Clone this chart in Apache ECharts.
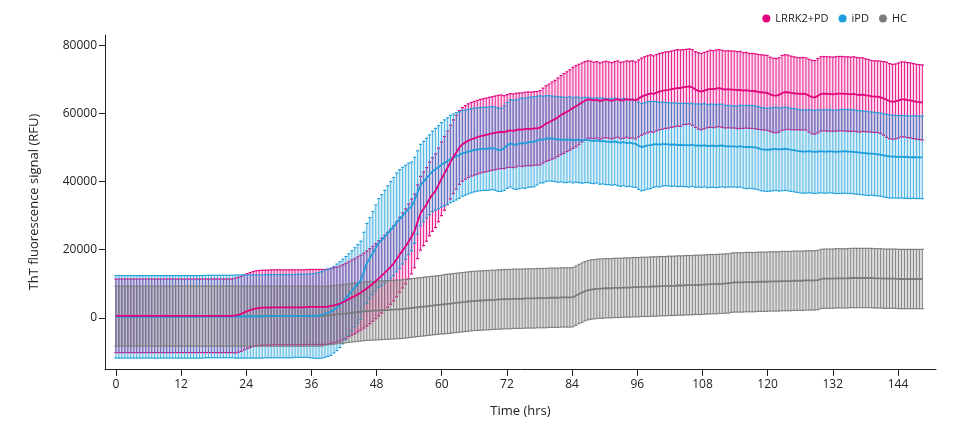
<!DOCTYPE html>
<html>
<head>
<meta charset="utf-8">
<script src="https://cdn.jsdelivr.net/npm/echarts@6/dist/echarts.min.js"></script>
<style>
  html, body { margin: 0; padding: 0; background: #fff; }
  #chart { width: 956px; height: 426px; }
</style>
</head>
<body>
<div id="chart"></div>
<script>
// readings every 0.55 h, values in thousands of RFU (mean and SD per reading)
const stepHrs = 0.55;
const xTicks = [0, 12, 24, 36, 48, 60, 72, 84, 96, 108, 120, 132, 144];
const yTicks = [0, 20000, 40000, 60000, 80000];
const names = ['LRRK2+PD', 'iPD', 'HC'];

const lrrkMean = [
  0.6,0.6,0.6,0.6,0.6,0.6,0.6,0.6,0.6,0.6,
  0.6,0.6,0.6,0.6,0.6,0.6,0.6,0.6,0.6,0.6,
  0.6,0.6,0.6,0.6,0.6,0.6,0.6,0.6,0.6,0.6,
  0.6,0.6,0.6,0.6,0.6,0.6,0.6,0.6,0.6,0.6,
  0.7,0.9,1.2,1.6,2.0,2.3,2.6,2.8,2.9,3.0,
  3.0,3.0,3.1,3.1,3.1,3.1,3.1,3.1,3.1,3.1,
  3.1,3.1,3.1,3.1,3.2,3.2,3.2,3.2,3.2,3.2,
  3.2,3.3,3.5,3.7,3.9,4.2,4.6,5.0,5.5,6.0,
  6.4,6.9,7.4,8.0,8.6,9.3,10.0,10.8,11.6,12.4,
  13.2,14.1,15.0,16.0,17.2,18.5,19.8,21.0,22.4,23.9,
  25.5,28.2,30.7,32.0,33.3,34.9,36.2,37.3,39.0,40.8,
  42.4,44.0,45.7,47.3,48.6,50.0,50.9,51.5,52.0,52.4,
  52.7,53.0,53.3,53.5,53.7,53.9,54.1,54.3,54.5,54.6,
  54.5,54.8,55.0,54.9,55.1,55.3,55.2,55.4,55.5,55.4,
  55.6,55.6,55.8,56.4,57.0,57.4,57.9,58.3,58.9,59.5,
  60.0,60.5,61.0,61.6,62.1,62.6,63.2,63.7,64.1,64.0,
  63.8,64.0,63.6,63.9,64.1,63.9,63.7,64.0,64.2,63.8,
  63.9,64.2,64.0,64.1,63.8,64.4,64.9,65.3,65.6,65.9,
  65.7,66.1,66.4,66.6,66.8,66.9,67.1,67.3,67.5,67.4,
  67.7,67.8,67.9,67.6,67.0,66.6,66.4,66.7,67.0,67.2,
  67.1,67.3,67.4,67.2,67.0,67.1,67.0,67.0,66.8,66.9,
  66.7,66.8,66.6,66.6,66.5,66.3,66.2,66.1,66.0,65.6,
  65.3,65.2,65.4,66.0,66.2,66.2,66.0,65.9,65.8,65.7,
  65.8,65.7,65.2,64.8,64.7,65.2,65.7,65.8,65.7,65.7,
  65.6,65.7,65.8,65.8,65.7,65.7,65.6,65.7,65.5,65.4,
  65.5,65.3,65.2,65.0,64.9,64.9,64.7,64.4,64.0,63.6,
  63.4,63.5,63.8,64.1,64.1,63.9,63.8,63.6,63.4,63.3,
  63.2
];
const lrrkSd = [
  10.8,10.8,10.8,10.8,10.8,10.8,10.8,10.8,10.8,10.8,
  10.8,10.8,10.8,10.8,10.8,10.8,10.8,10.8,10.8,10.8,
  10.8,10.8,10.8,10.8,10.8,10.8,10.8,10.8,10.8,10.8,
  10.8,10.8,10.8,10.8,10.8,10.8,10.8,10.8,10.8,10.8,
  11.0,11.0,11.0,11.0,11.0,11.0,11.0,11.0,11.0,11.0,
  11.0,11.0,11.0,11.0,11.0,11.0,11.0,11.0,11.0,11.0,
  11.0,11.0,11.0,11.0,11.0,11.0,11.0,11.0,11.0,11.0,
  11.0,11.0,11.0,11.0,11.0,11.0,11.0,11.0,11.0,11.0,
  11.0,11.0,11.0,11.0,11.0,11.0,11.0,11.0,11.0,11.0,
  11.0,11.0,11.0,11.0,11.0,11.0,11.0,11.0,11.0,11.0,
  10.8,10.8,10.8,10.8,10.8,10.8,10.8,10.8,10.8,10.8,
  10.8,10.8,10.8,10.8,10.8,10.8,10.8,10.8,10.8,10.8,
  10.8,10.8,10.8,10.8,10.8,10.8,10.8,10.8,10.8,10.8,
  10.7,10.7,10.8,10.8,10.8,10.7,10.8,10.8,10.8,10.8,
  10.8,10.8,10.9,11.0,11.1,11.2,11.3,11.4,11.5,11.6,
  11.7,11.7,11.8,11.9,11.9,11.8,11.6,11.5,11.3,11.3,
  11.2,11.2,11.2,11.2,11.2,11.2,11.2,11.2,11.2,11.2,
  11.2,11.2,11.3,11.3,11.3,11.3,11.3,11.3,11.3,11.3,
  11.2,11.2,11.2,11.2,11.2,11.2,11.2,11.2,11.2,11.2,
  11.0,11.0,11.0,11.1,11.1,11.2,11.2,11.2,11.2,11.3,
  11.3,11.3,11.3,11.3,11.3,11.3,11.3,11.3,11.3,11.3,
  11.1,11.1,11.0,11.0,11.0,11.0,11.0,11.0,11.0,10.9,
  10.9,10.9,10.9,11.0,11.0,10.9,10.8,10.7,10.6,10.6,
  10.6,10.6,10.7,10.8,10.8,10.9,10.9,10.9,10.9,10.9,
  10.9,10.9,10.9,10.9,10.9,10.9,10.9,10.9,10.9,10.9,
  10.8,10.7,10.6,10.5,10.5,10.5,10.6,10.8,11.0,11.0,
  11.0,11.0,11.0,11.0,11.0,11.0,11.0,11.0,11.0,11.0,
  11.0
];

const ipdMean = [
  0.3,0.3,0.3,0.3,0.3,0.3,0.3,0.3,0.3,0.3,
  0.3,0.3,0.3,0.3,0.3,0.3,0.3,0.3,0.3,0.3,
  0.3,0.3,0.3,0.3,0.3,0.3,0.3,0.3,0.3,0.3,
  0.4,0.4,0.4,0.4,0.4,0.4,0.4,0.4,0.4,0.4,
  0.4,0.4,0.4,0.4,0.4,0.4,0.4,0.4,0.4,0.4,
  0.5,0.5,0.5,0.5,0.5,0.5,0.5,0.5,0.5,0.5,
  0.6,0.6,0.6,0.6,0.6,0.6,0.6,0.6,0.7,0.9,
  1.2,1.5,1.8,2.4,3.1,3.9,4.8,5.8,6.8,7.9,
  9.0,10.0,11.0,13.5,16.0,17.5,19.0,20.5,22.0,22.8,
  23.8,24.8,25.8,26.8,28.0,29.0,30.0,31.0,32.0,32.7,
  34.5,36.8,39.0,40.0,41.0,42.0,43.0,43.6,44.2,44.9,
  45.5,46.0,46.6,47.0,47.4,47.8,48.3,48.5,48.8,49.0,
  49.3,49.4,49.5,49.6,49.6,49.7,49.8,49.6,49.3,49.3,
  49.8,50.6,51.2,50.9,50.8,51.1,51.3,51.2,51.5,51.6,
  51.7,52.0,52.4,52.3,52.6,52.7,52.6,52.5,52.3,52.4,
  52.2,52.2,52.4,52.1,52.3,52.2,52.0,52.2,52.2,52.0,
  51.9,52.1,51.8,51.9,51.7,51.7,51.6,51.8,51.5,51.4,
  51.6,51.3,51.4,51.2,51.1,50.5,50.1,50.3,50.6,50.7,
  50.9,51.0,50.8,51.0,51.0,50.9,50.8,50.9,50.7,50.8,
  50.7,50.7,50.6,50.8,50.5,50.6,50.5,50.7,50.4,50.5,
  50.5,50.4,50.5,50.6,50.3,50.4,50.3,50.3,50.2,50.4,
  50.2,50.1,50.2,50.1,50.0,49.8,49.5,49.4,49.3,49.4,
  49.5,49.6,49.4,49.5,49.6,49.5,49.3,49.2,49.0,48.9,
  48.8,48.8,48.9,48.8,48.7,48.8,48.9,48.8,48.8,48.9,
  48.8,48.7,48.8,48.8,48.9,48.8,48.8,48.7,48.6,48.5,
  48.4,48.3,48.2,48.2,48.1,48.0,47.9,47.7,47.5,47.4,
  47.3,47.3,47.2,47.3,47.2,47.2,47.1,47.2,47.1,47.1,
  47.1
];
const ipdSd = [
  12.1,12.1,12.1,12.1,12.1,12.1,12.1,12.1,12.1,12.1,
  12.1,12.1,12.1,12.1,12.1,12.1,12.1,12.1,12.1,12.1,
  12.1,12.1,12.1,12.1,12.1,12.1,12.1,12.1,12.1,12.1,
  12.1,12.1,12.1,12.1,12.1,12.1,12.1,12.1,12.1,12.1,
  12.2,12.2,12.2,12.2,12.2,12.2,12.2,12.2,12.2,12.2,
  12.2,12.2,12.2,12.2,12.2,12.2,12.2,12.2,12.2,12.2,
  12.2,12.2,12.2,12.2,12.2,12.3,12.4,12.5,12.6,12.7,
  12.8,12.8,12.8,12.7,12.7,12.6,12.4,12.2,12.0,11.8,
  11.6,11.5,11.5,11.6,11.7,11.9,12.2,12.6,13.0,13.3,
  13.6,13.9,14.2,14.4,14.5,14.5,14.2,13.8,13.4,13.0,
  12.6,12.2,11.9,11.8,11.7,11.7,11.8,12.0,12.2,12.4,
  12.6,12.7,12.8,12.8,12.8,12.7,12.6,12.5,12.4,12.3,
  12.3,12.2,12.2,12.2,12.2,12.2,12.2,12.2,12.2,12.2,
  12.4,12.6,12.8,13.0,13.1,13.2,13.2,13.2,13.2,13.2,
  13.2,13.0,12.8,12.7,12.6,12.5,12.5,12.5,12.5,12.5,
  12.5,12.5,12.5,12.5,12.5,12.5,12.5,12.5,12.5,12.5,
  12.5,12.5,12.6,12.6,12.6,12.6,12.7,12.7,12.7,12.8,
  12.8,12.8,12.8,12.8,12.8,12.8,12.8,12.8,12.8,12.8,
  12.6,12.5,12.4,12.3,12.2,12.2,12.2,12.2,12.2,12.2,
  12.2,12.2,12.2,12.2,12.2,12.2,12.2,12.2,12.2,12.2,
  12.2,12.2,12.2,12.1,12.0,12.0,11.9,11.9,11.9,12.0,
  12.1,12.2,12.2,12.2,12.2,12.2,12.2,12.2,12.2,12.2,
  12.2,12.2,12.2,12.2,12.2,12.2,12.2,12.2,12.2,12.2,
  12.2,12.2,12.2,12.2,12.2,12.2,12.2,12.2,12.2,12.2,
  12.2,12.2,12.3,12.3,12.3,12.3,12.3,12.3,12.3,12.3,
  12.3,12.3,12.3,12.2,12.2,12.2,12.2,12.2,12.2,12.2,
  12.1,12.1,12.1,12.1,12.1,12.1,12.1,12.1,12.1,12.1,
  12.1
];

const hcMean = [
  0.5,0.5,0.5,0.5,0.5,0.5,0.5,0.5,0.5,0.5,
  0.5,0.5,0.5,0.5,0.5,0.5,0.5,0.5,0.5,0.5,
  0.5,0.5,0.5,0.5,0.5,0.5,0.5,0.5,0.5,0.5,
  0.5,0.5,0.5,0.5,0.5,0.5,0.5,0.5,0.5,0.5,
  0.5,0.5,0.5,0.5,0.5,0.5,0.5,0.5,0.5,0.5,
  0.5,0.5,0.5,0.5,0.5,0.5,0.5,0.5,0.5,0.5,
  0.5,0.5,0.5,0.5,0.5,0.5,0.5,0.5,0.5,0.5,
  0.6,0.7,0.8,0.9,1.0,1.1,1.2,1.3,1.4,1.5,
  1.6,1.7,1.8,1.9,2.0,2.0,2.1,2.1,2.2,2.2,
  2.3,2.3,2.4,2.4,2.5,2.5,2.6,2.7,2.8,2.9,
  3.0,3.1,3.2,3.3,3.4,3.5,3.6,3.7,3.8,3.9,
  4.0,4.1,4.2,4.3,4.4,4.5,4.6,4.7,4.8,4.9,
  5.0,5.0,5.1,5.1,5.2,5.2,5.3,5.3,5.4,5.4,
  5.5,5.5,5.5,5.6,5.6,5.6,5.6,5.7,5.7,5.7,
  5.7,5.8,5.8,5.8,5.8,5.9,5.9,5.9,5.9,6.0,
  6.0,6.0,6.0,6.1,6.5,7.0,7.4,7.8,8.1,8.3,
  8.4,8.5,8.6,8.6,8.7,8.7,8.7,8.8,8.8,8.8,
  8.9,8.9,8.9,9.0,9.0,9.0,9.1,9.1,9.1,9.2,
  9.2,9.2,9.3,9.3,9.3,9.4,9.4,9.4,9.5,9.5,
  9.5,9.6,9.6,9.6,9.7,9.7,9.7,9.8,9.8,9.9,
  9.9,9.9,10.0,10.0,10.1,10.1,10.3,10.4,10.4,10.4,
  10.4,10.5,10.5,10.5,10.5,10.6,10.6,10.6,10.6,10.7,
  10.7,10.7,10.7,10.8,10.8,10.8,10.8,10.9,10.9,10.9,
  10.9,11.0,11.0,11.0,11.0,11.1,11.4,11.5,11.5,11.5,
  11.5,11.6,11.6,11.6,11.6,11.6,11.7,11.7,11.7,11.7,
  11.7,11.7,11.7,11.7,11.6,11.6,11.6,11.5,11.5,11.5,
  11.5,11.5,11.4,11.4,11.4,11.4,11.4,11.4,11.4,11.4,
  11.4
];
const hcSd = [
  8.8,8.8,8.8,8.8,8.8,8.8,8.8,8.8,8.8,8.8,
  8.8,8.8,8.8,8.8,8.8,8.8,8.8,8.8,8.8,8.8,
  8.8,8.8,8.8,8.8,8.8,8.8,8.8,8.8,8.8,8.8,
  8.8,8.8,8.8,8.8,8.8,8.8,8.8,8.8,8.8,8.8,
  8.8,8.8,8.8,8.8,8.8,8.8,8.8,8.8,8.8,8.8,
  8.8,8.8,8.8,8.8,8.8,8.8,8.8,8.8,8.8,8.8,
  8.8,8.8,8.8,8.8,8.8,8.8,8.8,8.8,8.8,8.8,
  8.6,8.6,8.6,8.6,8.6,8.6,8.6,8.6,8.6,8.6,
  8.6,8.6,8.6,8.6,8.6,8.6,8.6,8.6,8.6,8.6,
  8.6,8.6,8.6,8.6,8.6,8.6,8.6,8.6,8.6,8.6,
  8.6,8.6,8.6,8.6,8.6,8.6,8.6,8.6,8.6,8.6,
  8.7,8.7,8.7,8.7,8.7,8.7,8.7,8.7,8.7,8.7,
  8.7,8.7,8.7,8.7,8.7,8.7,8.7,8.7,8.7,8.7,
  8.7,8.7,8.7,8.7,8.7,8.7,8.7,8.7,8.7,8.7,
  8.7,8.7,8.7,8.7,8.7,8.7,8.7,8.7,8.7,8.7,
  8.7,8.7,8.7,8.7,8.7,8.7,8.7,8.7,8.7,8.7,
  8.7,8.7,8.7,8.7,8.7,8.7,8.7,8.7,8.7,8.7,
  8.7,8.7,8.7,8.7,8.7,8.7,8.7,8.7,8.7,8.7,
  8.7,8.7,8.7,8.7,8.7,8.7,8.7,8.7,8.7,8.7,
  8.7,8.7,8.7,8.7,8.7,8.7,8.7,8.7,8.7,8.7,
  8.7,8.7,8.7,8.7,8.7,8.7,8.7,8.7,8.7,8.7,
  8.7,8.7,8.7,8.7,8.7,8.7,8.7,8.7,8.7,8.7,
  8.7,8.7,8.7,8.7,8.7,8.7,8.7,8.7,8.7,8.7,
  8.7,8.7,8.7,8.7,8.7,8.7,8.7,8.7,8.7,8.7,
  8.7,8.7,8.7,8.7,8.7,8.7,8.7,8.7,8.7,8.7,
  8.7,8.7,8.7,8.7,8.7,8.7,8.7,8.7,8.7,8.7,
  8.7,8.7,8.7,8.7,8.7,8.7,8.7,8.7,8.7,8.7,
  8.7
];

const colors = ['#e4007c', '#1e9fdb', '#7c7c7c'];
const bandFills = ['rgba(228,0,124,0.14)', 'rgba(30,159,219,0.17)', 'rgba(120,120,120,0.25)'];
const groups = [[lrrkMean, lrrkSd], [ipdMean, ipdSd], [hcMean, hcSd]];

// shaded band between mean-SD and mean+SD
function bandRender(mean, sd, fill) {
  return function (params, api) {
    const top = [], bottom = [];
    mean.forEach((m, i) => {
      const t = i * stepHrs;
      top.push(api.coord([t, (m + sd[i]) * 1000]));
      bottom.unshift(api.coord([t, (m - sd[i]) * 1000]));
    });
    return {
      type: 'polygon',
      shape: {points: top.concat(bottom)},
      style: {fill: fill},
      silent: true
    };
  };
}

// one error bar per reading, with small caps
function barRender(color, alpha) {
  return function (params, api) {
    const t = api.value(0);
    const lo = api.coord([t, api.value(1)]);
    const hi = api.coord([t, api.value(2)]);
    const x = lo[0];
    return {
      type: 'group',
      children: [
        {type: 'line', shape: {x1: x, y1: lo[1], x2: x, y2: hi[1]}, style: {stroke: color, lineWidth: 1, opacity: alpha}},
        {type: 'line', shape: {x1: x - 1.5, y1: hi[1], x2: x + 1.5, y2: hi[1]}, style: {stroke: color, lineWidth: 1.2}},
        {type: 'line', shape: {x1: x - 1.5, y1: lo[1], x2: x + 1.5, y2: lo[1]}, style: {stroke: color, lineWidth: 1.2}}
      ]
    };
  };
}

const barAlpha = [0.85, 0.72, 0.9];
const bandSeries = [], barSeries = [], lineSeries = [];
groups.forEach(([mean, sd], k) => {
  bandSeries.push({
    name: names[k], type: 'custom', z: 1,
    itemStyle: {color: colors[k]},
    data: [[0, 0]],
    renderItem: bandRender(mean, sd, bandFills[k])
  });
  barSeries.push({
    name: names[k], type: 'custom', z: 2,
    itemStyle: {color: colors[k]},
    encode: {x: 0, y: [1, 2]},
    data: mean.map((m, i) => [i * stepHrs, (m - sd[i]) * 1000, (m + sd[i]) * 1000]),
    renderItem: barRender(colors[k], barAlpha[k])
  });
  lineSeries.push({
    name: names[k], type: 'line', z: 3,
    showSymbol: false,
    itemStyle: {color: colors[k]},
    lineStyle: {color: colors[k], width: 1.8},
    data: mean.map((m, i) => [i * stepHrs, m * 1000])
  });
});
// draw order: LRRK2+PD at the bottom, then iPD, HC on top
const order = [0, 1, 2];

const chart = echarts.init(document.getElementById('chart'));
chart.setOption({
  animation: false,
  backgroundColor: '#ffffff',
  textStyle: {fontFamily: 'Open Sans, sans-serif'},
  legend: {
    right: 44,
    top: 8,
    icon: 'circle',
    itemWidth: 8,
    itemHeight: 8,
    itemGap: 10,
    textStyle: {fontSize: 11, color: '#222'},
    data: names.map((n, k) => ({name: n, itemStyle: {color: colors[k]}}))
  },
  grid: {left: 105, right: 20, top: 35, bottom: 57, containLabel: false},
  xAxis: {
    type: 'value',
    min: -2,
    max: 151,
    name: 'Time (hrs)',
    nameLocation: 'middle',
    nameGap: 36,
    nameTextStyle: {fontSize: 13, color: '#222'},
    axisLine: {show: true, onZero: false, lineStyle: {color: '#222', width: 1}},
    axisTick: {show: true, customValues: xTicks, length: 7, lineStyle: {color: '#222'}},
    axisLabel: {customValues: xTicks, fontSize: 12, color: '#222', margin: 10},
    splitLine: {show: false}
  },
  yAxis: {
    type: 'value',
    min: -15000,
    max: 83000,
    name: 'ThT fluorescence signal (RFU)',
    nameLocation: 'middle',
    nameGap: 64,
    nameTextStyle: {fontSize: 13, color: '#222'},
    axisLine: {show: true, onZero: false, lineStyle: {color: '#222', width: 1}},
    axisTick: {show: true, customValues: yTicks, length: 6, lineStyle: {color: '#222'}},
    axisLabel: {customValues: yTicks, fontSize: 12, color: '#222', margin: 8, formatter: v => String(v)},
    splitLine: {show: false}
  },
  series: order.map(k => bandSeries[k])
    .concat(order.map(k => barSeries[k]))
    .concat([2, 1, 0].map(k => lineSeries[k]))
});
window.addEventListener('resize', () => chart.resize());
</script>
</body>
</html>
